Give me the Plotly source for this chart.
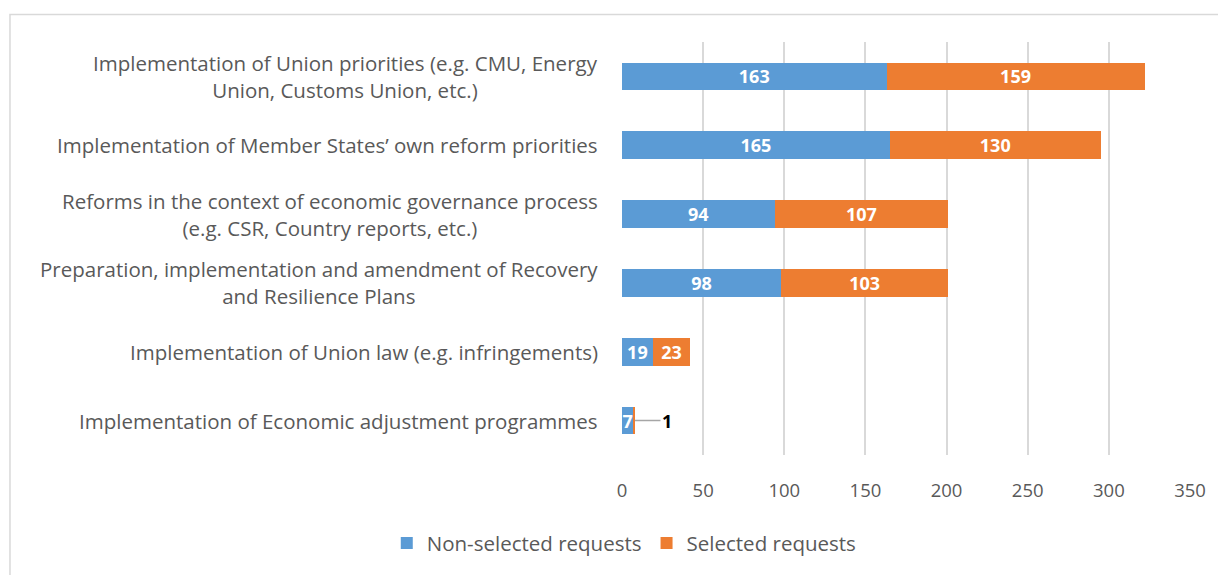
import plotly.graph_objects as go

categories = [
    "Implementation of Union priorities (e.g. CMU, Energy<br>Union, Customs Union, etc.)",
    "Implementation of Member States’ own reform priorities",
    "Reforms in the context of economic governance process<br>(e.g. CSR, Country reports, etc.)",
    "Preparation, implementation and amendment of Recovery<br>and Resilience Plans",
    "Implementation of Union law (e.g. infringements)",
    "Implementation of Economic adjustment programmes",
]
non_selected = [163, 165, 94, 98, 19, 7]
selected = [159, 130, 107, 103, 23, 1]
x_ticks = [0, 50, 100, 150, 200, 250, 300, 350]

BLUE = "#5B9BD5"
ORANGE = "#ED7D31"
FONT = "Open Sans"
GREY = "#595959"

fig = go.Figure()
fig.add_trace(go.Bar(
    y=categories, x=non_selected, orientation="h", name="Non-selected requests",
    marker=dict(color=BLUE, line=dict(width=0)),
    text=[str(v) for v in non_selected], textposition="inside", textangle=0,
    insidetextanchor="middle", constraintext="none",
    textfont=dict(color="white", size=18, family=FONT, weight="bold"),
    hoverinfo="skip",
))
fig.add_trace(go.Bar(
    y=categories, x=selected, orientation="h", name="Selected requests",
    marker=dict(color=ORANGE, line=dict(width=0)),
    text=[str(v) if v > 2 else "" for v in selected], textposition="inside", textangle=0,
    insidetextanchor="middle", constraintext="none",
    textfont=dict(color="white", size=18, family=FONT, weight="bold"),
    hoverinfo="skip",
))

annotations = []
for c in categories:
    annotations.append(dict(
        x=0, xref="paper", y=c, yref="y", text=c, showarrow=False,
        xanchor="right", align="center", xshift=-22,
        font=dict(size=20.5, color=GREY, family=FONT),
    ))
# small value shown outside with leader line
for c, a, b in zip(categories, non_selected, selected):
    if b <= 2:
        annotations.append(dict(
            x=a + b, y=c, xref="x", yref="y", text=f"<b>{b}</b>",
            showarrow=True, arrowhead=0, arrowcolor="#a6a6a6", arrowwidth=1.5,
            ax=32, ay=0, font=dict(size=18, color="black", family=FONT),
        ))

fig.update_layout(
    width=1218, height=567,
    barmode="stack", bargap=0.6,
    paper_bgcolor="white", plot_bgcolor="white",
    margin=dict(l=614, r=36, t=34, b=113),
    font=dict(family=FONT, color=GREY),
    xaxis=dict(range=[0, 350], tickvals=x_ticks, showgrid=True, gridcolor="#d9d9d9",
               gridwidth=1.5, zeroline=False, showline=False,
               tickfont=dict(size=18.5, color=GREY), ticks="", ticklabelstandoff=22),
    yaxis=dict(autorange="reversed", showticklabels=False, showgrid=False, zeroline=False),
    legend=dict(orientation="h", x=0.004, xanchor="center", y=-0.165, yanchor="top",
                font=dict(size=20.5, color=GREY), traceorder="normal",
                itemwidth=30),
    annotations=annotations,
    showlegend=True,
    shapes=[dict(type="rect", xref="paper", yref="paper", x0=-1.0775, x1=1.08,
                 y0=-0.3, y1=1.0667, line=dict(color="#d9d9d9", width=1.5),
                 fillcolor="rgba(0,0,0,0)", layer="below")],
)
fig.write_html("out.html")
